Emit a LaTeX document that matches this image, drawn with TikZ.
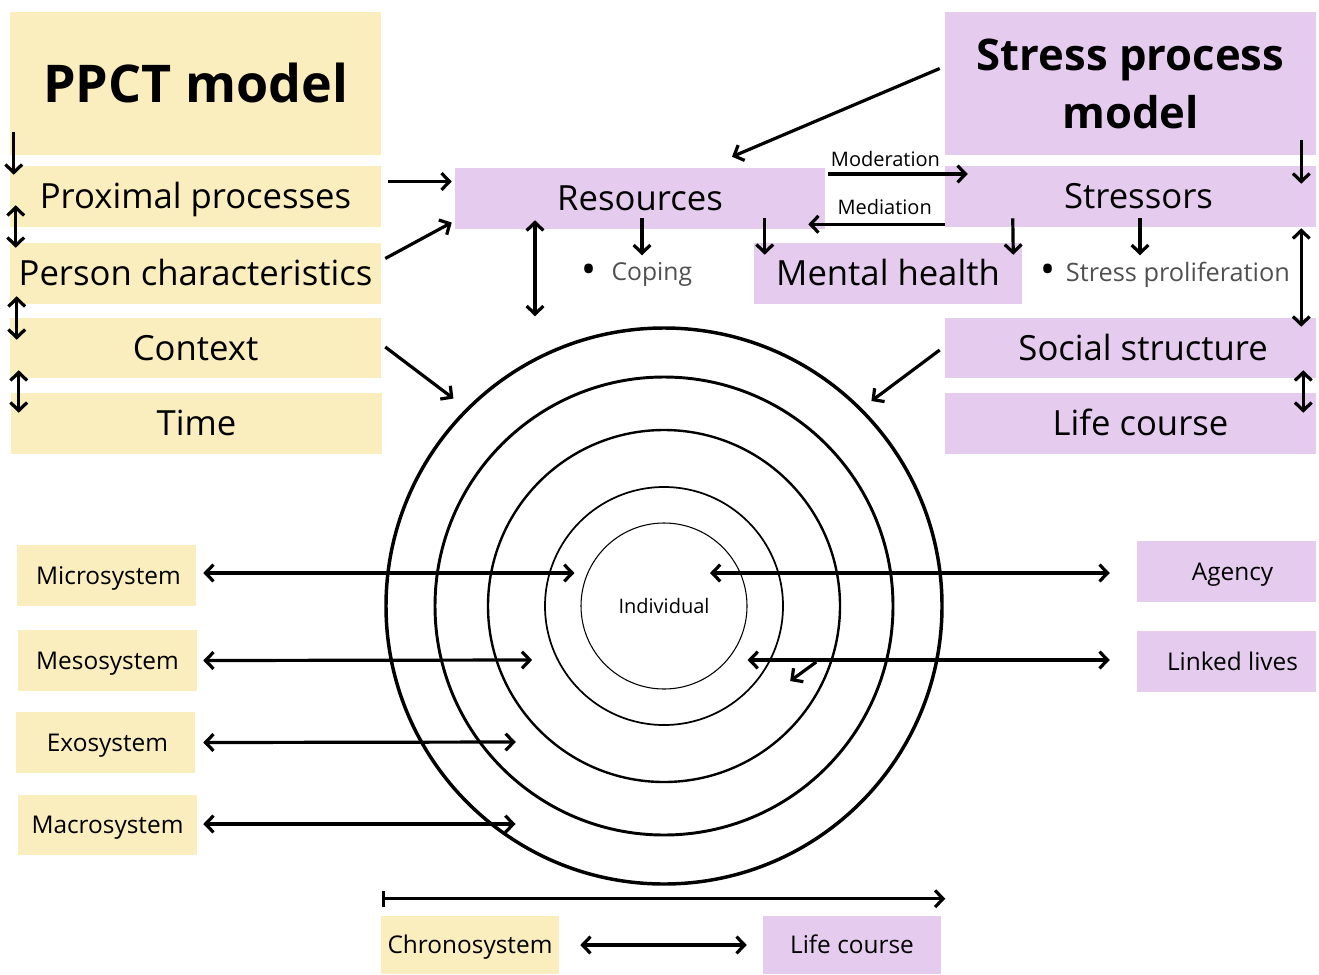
\documentclass[tikz,border=0pt]{standalone}
\usepackage{fontspec}
\setmainfont{Open Sans}
\usetikzlibrary{arrows.meta,calc}
\definecolor{ppctyellow}{RGB}{250,237,190}
\definecolor{stresspurple}{RGB}{229,203,238}
\definecolor{bullettext}{RGB}{80,80,80}
\newcommand{\bigdot}{\textcolor{black}{\fontsize{30}{30}\selectfont\raisebox{-0.12ex}{•}}}
\begin{document}
\begin{tikzpicture}[x=0.75pt,y=-0.75pt,
  sz/.style 2 args={minimum width=#1*0.75pt, minimum height=#2*0.75pt},
  ybox/.style={fill=ppctyellow, inner sep=0pt, text=black},
  pbox/.style={fill=stresspurple, inner sep=0pt, text=black},
  title/.style={font=\fontsize{39}{47}\selectfont\bfseries, text height=27.8pt, text depth=0pt},
  big/.style={font=\fontsize{26}{31}\selectfont, text height=18.6pt, text depth=0pt},
  mid/.style={font=\fontsize{18.3}{22}\selectfont, text height=13pt, text depth=0pt},
  note/.style={font=\fontsize{18.5}{22}\selectfont, text=bullettext},
  small/.style={font=\fontsize{15}{18}\selectfont},
  ring/.style={circle, draw, inner sep=0pt},
  tip/.tip={Straight Barb[length=6pt,width=12.5pt]},
  arr/.style={line width=2.4pt, -tip},
  dbl/.style={line width=2.4pt, tip-tip},
  timeline/.style={line width=2.4pt, {Bar[width=12pt]}-tip},
]
\useasboundingbox (0,0) rectangle (1319,974);

% PPCT column
\node[ybox, title, sz={371}{143}] (ppct) at (195.5,83.5) {PPCT model};
\node[ybox, big, sz={371}{61}] (prox) at (195.5,196.5) {Proximal processes};
\node[ybox, big, sz={371}{61}] (person) at (195.5,273.5) {Person characteristics};
\node[ybox, big, sz={371}{60}] (context) at (195.5,348) {Context};
\node[ybox, big, sz={371}{61}] (time) at (196.5,423.5) {Time};

% Stress process column
\node[pbox, align=center, font=\fontsize{32.7}{43.5}\selectfont\bfseries, sz={371}{143}] (spm) at (1130.5,83.5) {Stress process\\model};
\node[pbox, big, sz={371}{61}] (str) at (1130.5,196.5) {\hspace*{12pt}Stressors};
\node[pbox, big, sz={371}{60}] (social) at (1130.5,348) {\hspace*{19pt}Social structure};
\node[pbox, big, sz={371}{61}] (life) at (1130.5,423.5) {\hspace*{15pt}Life course};

% Middle row
\node[pbox, big, sz={370}{61}] (res) at (640,198.5) {Resources};
\node[pbox, big, sz={268}{61}] (mental) at (888,273.5) {Mental health};
\node[note, anchor=west] (coping) at (577,274.5) {\bigdot\hspace{0.6em}Coping};
\node[note, font=\fontsize{19}{22}\selectfont, anchor=west] (prolif) at (1036,274.5) {\bigdot\hspace{0.4em}Stress proliferation};

% Ecological rings
\node[ring, line width=2.6pt, minimum size=417pt] (c1) at (664,606) {};
\node[ring, line width=2.2pt, minimum size=343.5pt] (c2) at (664,606) {};
\node[ring, line width=1.8pt, minimum size=264pt] (c3) at (664,606) {};
\node[ring, line width=1.3pt, minimum size=178.5pt] (c4) at (664,606) {};
\node[ring, line width=0.8pt, minimum size=124.5pt, small] (c5) at (664,606) {Individual};

% System boxes
\node[ybox, mid, sz={179}{61}] (micro) at (106.5,575.5) {\hspace*{3pt}Microsystem};
\node[ybox, mid, sz={179}{61}] (meso) at (107.5,660.5) {Mesosystem};
\node[ybox, mid, sz={179}{61}] (exo) at (105.5,742.5) {\hspace*{3pt}Exosystem};
\node[ybox, mid, sz={179}{60}] (macro) at (107.5,825) {Macrosystem};
\node[pbox, mid, sz={179}{61}] (agency) at (1226.5,571.5) {\hspace*{9pt}Agency};
\node[pbox, mid, sz={179}{61}] (linked) at (1226.5,661.5) {\hspace*{9pt}Linked lives};
\node[ybox, mid, sz={178}{58}] (chrono) at (470,945) {Chronosystem};
\node[pbox, mid, sz={178}{58}] (lifeb) at (852,945) {Life course};

% PPCT chain
\draw[arr] ($(ppct.south west)+(4,-23)$) -- ($(prox.north west)+(4,9)$);
\draw[dbl] ($(prox.south west)+(6,-22)$) -- ($(person.north west)+(6,5)$);
\draw[dbl] ($(person.south west)+(7,-8)$) -- ($(context.north west)+(7,22)$);
\draw[dbl] ($(context.south west)+(9,-8)$) -- ($(time.north west)+(8,20)$);

% Into resources and rings
\draw[arr] ($(prox.east)+(7,-15)$) -- ($(res.west)+(-3,-17)$);
\draw[arr] ($(person.east)+(4,-15)$) -- ($(res.west)+(-3,24)$);
\draw[arr, shorten >=12pt] ($(context.east)+(4,-1)$) -- (c1.north west);
\draw[arr, shorten >=9pt] ($(social.west)+(-5,2)$) -- (c1.north east);
\draw[arr] ($(spm.west)+(-5,-15)$) -- ($(res.north)+(92,-11)$);
\draw[dbl] ($(res.south)+(-105,-9)$) -- ($(c1.north)+(-129,-10)$);

% Down arrows from resources and stressors
\draw[arr] ($(res.south)+(2,-11)$) -- ($(res.south)+(2,26)$);
\draw[arr] ($(mental.north west)+(11,-25)$) -- ($(mental.north west)+(11,12)$);
\draw[arr] ($(str.south west)+(68,-9)$) -- ($(mental.north east)+(-9,12)$);
\draw[arr] ($(str.south)+(9.5,-9)$) -- ($(str.south)+(9.5,28)$);

% Stress process chain
\draw[arr] ($(spm.south east)+(-15,-15)$) -- ($(str.north east)+(-15,18)$);
\draw[dbl] ($(str.south east)+(-15,1)$) -- ($(social.north east)+(-15,9)$);
\draw[dbl] ($(social.south east)+(-13,-8)$) -- ($(life.north east)+(-13,20)$);

% Moderation and mediation
\draw[arr] ($(res.east)+(3,-24.5)$) -- node[small, pos=0.41, above=1pt] {Moderation} ($(str.west)+(23,-22.5)$);
\draw[arr] ($(str.south west)+(0,-3)$) -- node[small, pos=0.44, above=3pt] {Mediation} ($(res.south east)+(-17,-5)$);

% Systems to rings
\draw[dbl] ($(micro.east)+(7,-2.5)$) -- ($(c5.west)+(-6,-33)$);
\draw[dbl] ($(meso.east)+(6,0)$) -- ($(c4.west)+(-12,54)$);
\draw[dbl] ($(exo.east)+(8,0)$) -- ($(c3.west)+(29,136)$);
\draw[dbl] ($(macro.east)+(6,-1)$) -- ($(c2.west)+(82,218)$);
\draw[dbl] ($(c5.center)+(46,-33)$) -- ($(agency.west)+(-27,1.5)$);
\draw[dbl] ($(c5.east)+(0,54)$) -- ($(linked.west)+(-27,-1.5)$);
\draw[arr] ($(c3.east)+(-25,56)$) -- ($(c3.east)+(-51,75)$);

% Time axis
\draw[timeline] ($(chrono.north west)+(1,-17)$) -- ($(lifeb.north east)+(4,-17)$);
\draw[dbl] ($(chrono.east)+(21,0)$) -- ($(lifeb.west)+(-16,0)$);
\end{tikzpicture}
\end{document}
